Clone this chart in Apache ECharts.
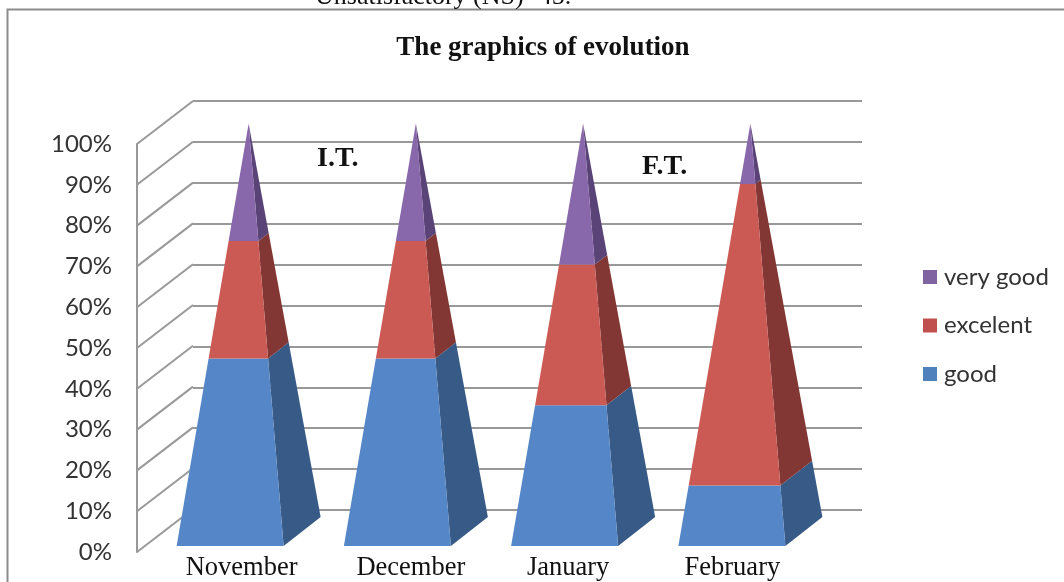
<!DOCTYPE html>
<html>
<head>
<meta charset="utf-8">
<script src="https://cdn.jsdelivr.net/npm/echarts@6/dist/echarts.min.js"></script>
<style>
  html, body { margin: 0; background: #fff; }
  #chart { width: 1064px; height: 582px; }
</style>
</head>
<body>
<div id="chart"></div>
<script>
const months = ['November', 'December', 'January', 'February']
const good = [44.4, 44.4, 33.3, 14.3]
const excelent = [27.8, 27.8, 33.3, 71.4]
const veryGood = [27.8, 27.8, 33.4, 14.3]
const yTicks = [0, 10, 20, 30, 40, 50, 60, 70, 80, 90, 100]

// the month labels sit a bit right of their pyramids in the original
const labelShift = [21, 23, 13, 10]

const SERIF = '"Liberation Serif", serif'
const WALL = '#999999'

// depth of the side wall, and of the pyramid base around its centre
const wallDepth = [56, -43]
const baseCentre = [28, -20.5]

const stack = (lower, values) => values.map((v, i) => [i, lower[i], lower[i] + v])
const zeros = months.map(() => 0)
const goodTop = good.map(v => v)
const excelentTop = good.map((v, i) => v + excelent[i])

const pyramidFace = (api, front, side) => {
  const cat = api.value(0)
  const corners = v => {
    const p = api.coord([cat, v])
    const t = 1 - v / 100
    const cx = p[0] + baseCentre[0]
    const cy = p[1] + baseCentre[1]
    return {
      left: [cx - 72 * t, cy + 14.5 * t],
      right: [cx + 35 * t, cy + 14.5 * t],
      back: [cx + 72 * t, cy - 14.5 * t]
    }
  }
  const lo = corners(api.value(1))
  const hi = corners(Math.min(api.value(2), 100))
  return {
    type: 'group',
    children: [
      {
        type: 'polygon',
        shape: { points: [lo.right, lo.back, hi.back, hi.right] },
        style: { fill: side }
      },
      {
        type: 'polygon',
        shape: { points: [lo.left, lo.right, hi.right, hi.left] },
        style: { fill: front }
      }
    ]
  }
}

const pyramidSeries = (name, data, front, side, legendColor) => ({
  name,
  type: 'custom',
  xAxisIndex: 0,
  yAxisIndex: 0,
  data,
  z: 5,
  itemStyle: { color: legendColor },
  encode: { x: 0, y: [1, 2] },
  renderItem: (params, api) => pyramidFace(api, front, side)
})

const sideWallLines = {
  type: 'custom',
  xAxisIndex: 0,
  yAxisIndex: 0,
  data: yTicks.map(v => [0, v]),
  z: 2,
  encode: { x: 0, y: 1 },
  renderItem: (params, api) => {
    const y = api.coord([0, api.value(1)])[1]
    const x = params.coordSys.x
    return {
      type: 'line',
      shape: { x1: x, y1: y, x2: x + wallDepth[0], y2: y + wallDepth[1] },
      style: { stroke: WALL, lineWidth: 2 }
    }
  }
}

const monthRich = {}
months.forEach((m, i) => {
  monthRich['m' + i] = {
    fontFamily: SERIF,
    fontSize: 26.5,
    color: '#111',
    padding: [0, 0, 0, labelShift[i] * 2]
  }
})

const chart = echarts.init(document.getElementById('chart'))
chart.setOption({
  animation: false,
  backgroundColor: '#fff',
  title: {
    text: 'The graphics of evolution',
    left: 538,
    top: 30,
    textAlign: 'center',
    textStyle: { fontFamily: SERIF, fontSize: 27, fontWeight: 'bold', color: '#111' }
  },
  legend: {
    data: ['very good', 'excelent', 'good'],
    orient: 'vertical',
    left: 918,
    top: 260,
    itemWidth: 14,
    itemHeight: 14,
    itemGap: 24.5,
    icon: 'rect',
    textStyle: { fontFamily: 'Lato', fontSize: 24, color: '#333', padding: [0, 0, 0, 2] }
  },
  grid: [
    { left: 137, top: 144, width: 669, height: 409 },
    { left: 193, top: 101, width: 669, height: 409 }
  ],
  xAxis: [
    {
      type: 'category',
      gridIndex: 0,
      data: months,
      axisLine: { show: false },
      axisTick: { show: false },
      axisLabel: {
        margin: 3,
        interval: 0,
        formatter: (value, index) => `{m${index}|${value}}`,
        rich: monthRich
      }
    },
    {
      type: 'category',
      gridIndex: 1,
      data: months,
      axisLine: { show: false },
      axisTick: { show: false },
      axisLabel: { show: false }
    }
  ],
  yAxis: [
    {
      type: 'value',
      gridIndex: 0,
      min: 0,
      max: 100,
      interval: 10,
      axisLine: { show: true, lineStyle: { color: WALL, width: 2 } },
      axisTick: { show: false },
      splitLine: { show: false },
      axisLabel: {
        margin: 25,
        formatter: '{value}%',
        fontFamily: 'Lato',
        fontSize: 24,
        color: '#333',
        padding: [9, 0, 0, 0]
      }
    },
    {
      type: 'value',
      gridIndex: 1,
      min: 0,
      max: 100,
      interval: 10,
      axisLine: { show: false },
      axisTick: { show: false },
      axisLabel: { show: false },
      splitLine: { show: true, lineStyle: { color: WALL, width: 2 } }
    }
  ],
  graphic: [
    {
      type: 'polyline',
      shape: { points: [[7.5, 582], [7.5, 9.5], [1064, 9.5]] },
      style: { stroke: '#8c8c8c', lineWidth: 2, fill: null }
    },
    {
      type: 'text',
      left: 315,
      top: -16,
      style: { text: 'Unsatisfactory (NS)- 45.', font: '26px ' + SERIF, fill: '#111' }
    },
    {
      type: 'text',
      left: 317,
      top: 145,
      z: 10,
      style: { text: 'I.T.', font: 'bold 28px ' + SERIF, fill: '#111' }
    },
    {
      type: 'text',
      left: 642,
      top: 153,
      z: 10,
      style: { text: 'F.T.', font: 'bold 28px ' + SERIF, fill: '#111' }
    }
  ],
  series: [
    sideWallLines,
    pyramidSeries('good', stack(zeros, good), '#5586c7', '#375a86', '#4f81bd'),
    pyramidSeries('excelent', stack(goodTop, excelent), '#cc5a54', '#833735', '#c0504d'),
    pyramidSeries('very good', stack(excelentTop, veryGood), '#8868aa', '#5a4477', '#8064a2')
  ]
})
</script>
</body>
</html>
